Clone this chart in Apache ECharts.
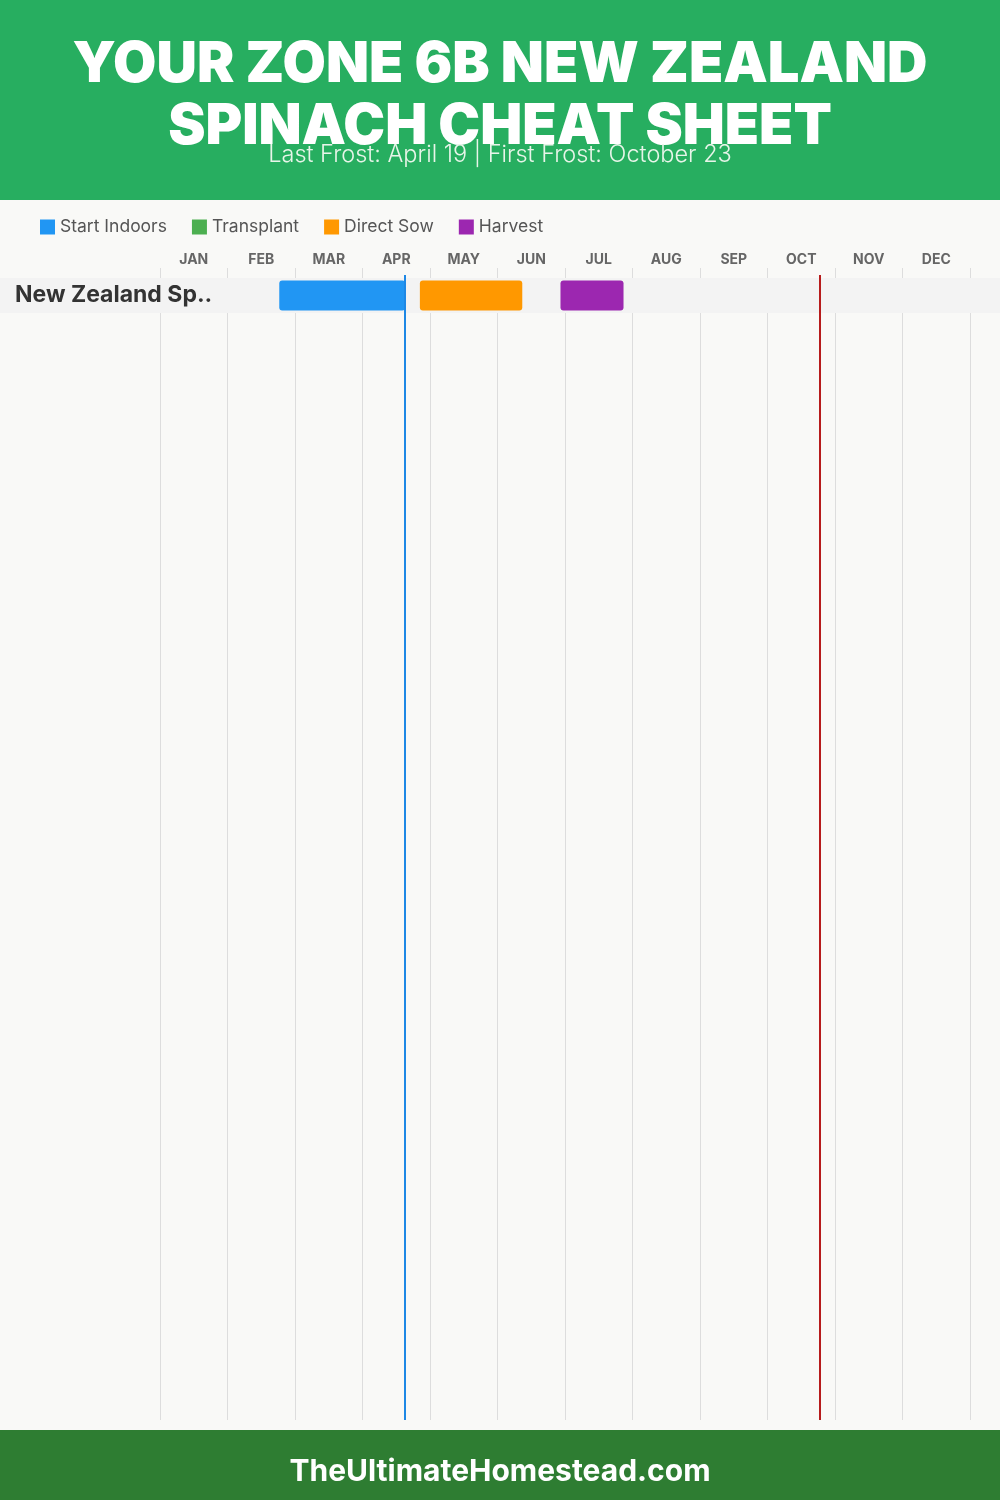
<!DOCTYPE html>
<html>
<head>
<meta charset="utf-8">
<script src="https://cdn.jsdelivr.net/npm/echarts@6/dist/echarts.min.js"></script>
<style>
html,body{margin:0;padding:0;background:#F9F9F7;}
#chart{width:1000px;height:1500px;}
</style>
</head>
<body>
<div id="chart"></div>
<script>
// ---- data (month units: 0 = Jan 1, 12 = Dec 31) ----
const months = ['JAN','FEB','MAR','APR','MAY','JUN','JUL','AUG','SEP','OCT','NOV','DEC'];
const crops = ['New Zealand Sp..'];
const stageNames = ['Start Indoors','Transplant','Direct Sow','Harvest'];
const stageColors = ['#2196F3','#4CAF50','#FF9800','#9C27B0'];
// [cropIndex, start, end]
const startIndoors = [[0, 1.767, 3.633]];   // Feb 23 - Apr 19
const transplant   = [];
const directSow    = [[0, 3.85, 5.367]];    // Apr 26 - Jun 11
const harvest      = [[0, 5.933, 6.867]];   // Jun 28 - Jul 26
const lastFrost = 3.633;   // April 19
const firstFrost = 9.767;  // October 23
const titleLines = ['YOUR ZONE 6B NEW ZEALAND', 'SPINACH CHEAT SHEET'];
const subtitle = 'Last Frost: April 19 | First Frost: October 23';
const footer = 'TheUltimateHomestead.com';

const stageData = [startIndoors, transplant, directSow, harvest];
const FONT = 'Inter, "Open Sans", sans-serif';

const chart = echarts.init(document.getElementById('chart'), null, {renderer:'canvas'});

function barRender(params, api) {
  const s = api.coord([api.value(1), api.value(0)]);
  const e = api.coord([api.value(2), api.value(0)]);
  const h = 30;
  return {
    type: 'rect',
    shape: {x: s[0], y: s[1] - h/2, width: e[0] - s[0], height: h, r: 3},
    style: {fill: api.visual('color')}
  };
}

const series = stageNames.map((n, i) => ({
  name: n,
  type: 'custom',
  xAxisIndex: 2,
  yAxisIndex: 1,
  z: 3,
  itemStyle: {color: stageColors[i]},
  renderItem: barRender,
  encode: {x: [1, 2], y: 0},
  data: stageData[i]
}));

series.unshift({
  name: 'rowBand',
  type: 'custom',
  xAxisIndex: 2,
  yAxisIndex: 1,
  z: 1,
  clip: false,
  silent: true,
  renderItem: function (params, api) {
    const c = api.coord([0, api.value(0)]);
    return {type: 'rect', shape: {x: 0, y: c[1] - 17.5, width: api.getWidth(), height: 35},
            style: {fill: '#F3F3F3'}};
  },
  data: crops.map((c, i) => [i])
});

series.push({
  name: 'frost',
  type: 'line',
  xAxisIndex: 0,
  yAxisIndex: 0,
  z: 10,
  data: [],
  markLine: {
    silent: true,
    symbol: 'none',
    label: {show: false},
    data: [
      [{coord: [lastFrost, 0.006], lineStyle: {color: '#1E88E5', width: 2, type: 'solid'}}, {coord: [lastFrost, 1]}],
      [{coord: [firstFrost, 0.006], lineStyle: {color: '#B71C1C', width: 2, type: 'solid'}}, {coord: [firstFrost, 1]}]
    ]
  }
});

const option = {
  backgroundColor: '#F9F9F7',
  animation: false,
  textStyle: {fontFamily: FONT},
  legend: {
    data: stageNames,
    left: 35,
    top: 213,
    icon: 'rect',
    itemWidth: 15,
    itemHeight: 15,
    itemGap: 25,
    textStyle: {fontSize: 17.5, color: '#555', fontFamily: FONT}
  },
  grid: [
    {left: 160, right: 30, top: 268, bottom: 80},
    {left: 160, right: 30, top: 278, height: 35}
  ],
  xAxis: [
    {type: 'value', gridIndex: 0, min: 0, max: 12, interval: 1, position: 'bottom',
     axisLine: {show: false}, axisTick: {show: false}, axisLabel: {show: false},
     splitLine: {show: true, lineStyle: {color: '#DDDDDD', width: 1}}},
    {type: 'category', gridIndex: 0, position: 'top', data: months, boundaryGap: true,
     axisLine: {show: false}, axisTick: {show: false}, splitLine: {show: false},
     axisLabel: {fontSize: 14, fontWeight: 'bold', color: '#666', margin: 1, fontFamily: FONT}},
    {type: 'value', gridIndex: 1, min: 0, max: 12, show: false}
  ],
  yAxis: [
    {type: 'value', gridIndex: 0, min: 0, max: 1, inverse: true, show: false},
    {type: 'category', gridIndex: 1, data: crops, inverse: true, z: 5,
     axisLine: {show: false}, axisTick: {show: false}, splitLine: {show: false},
     axisLabel: {align: 'left', margin: 145, fontSize: 23, fontWeight: 'bold', color: '#333', fontFamily: FONT, padding: [7, 0, 0, 0]}}
  ],
  graphic: [
    {type: 'rect', z: -10, shape: {x: 0, y: 0, width: 1000, height: 200}, style: {fill: '#27AE60'}},
    {type: 'rect', z: -10, shape: {x: 0, y: 1430, width: 1000, height: 70}, style: {fill: '#2E7D32'}},
    {type: 'text', z: 100, x: 500, y: 65, style: {text: titleLines[0], fill: '#fff', font: '900 56px ' + FONT, textAlign: 'center', textVerticalAlign: 'middle'}},
    {type: 'text', z: 100, x: 500, y: 127, style: {text: titleLines[1], fill: '#fff', font: '900 56px ' + FONT, textAlign: 'center', textVerticalAlign: 'middle'}},
    {type: 'text', z: 101, x: 500, y: 155, style: {text: subtitle, fill: '#E8F5E9', font: '300 23.5px ' + FONT, textAlign: 'center', textVerticalAlign: 'middle'}},
    {type: 'text', z: 100, x: 500, y: 1472, style: {text: footer, fill: '#fff', font: 'bold 30px ' + FONT, textAlign: 'center', textVerticalAlign: 'middle'}}
  ],
  series: series
};
chart.setOption(option);
</script>
</body>
</html>
